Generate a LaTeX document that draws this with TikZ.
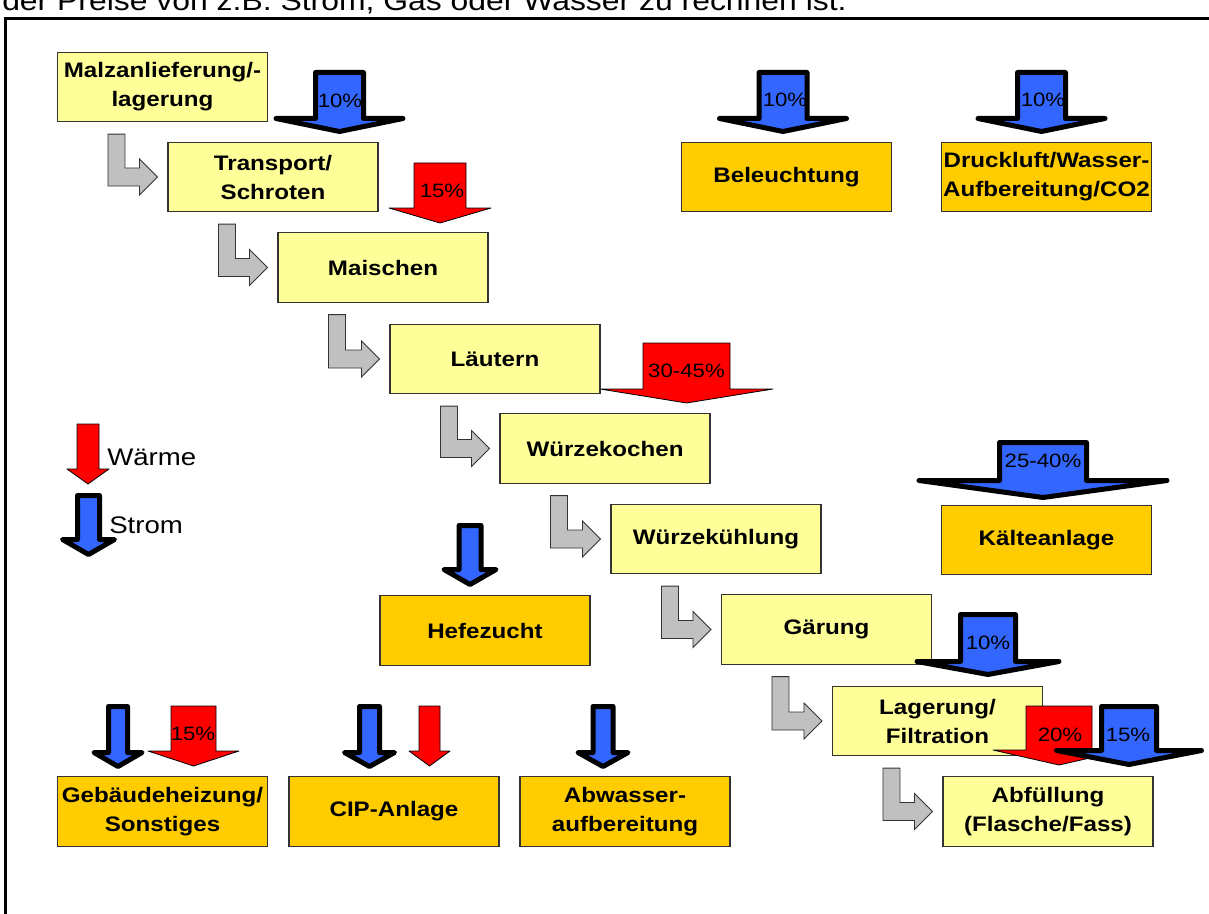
\documentclass[tikz,border=0pt]{standalone}
\usepackage{fontspec}
\setmainfont{Liberation Sans}[FakeStretch=1.15]
\usetikzlibrary{calc}
\definecolor{lyel}{HTML}{FFFF99}
\definecolor{oran}{HTML}{FFCC00}
\definecolor{bfill}{HTML}{3366FF}
\definecolor{rfill}{HTML}{FF0000}
\definecolor{gfill}{HTML}{C0C0C0}
\newcommand\myboxfont{\fontsize{15.75}{21.75}\selectfont\bfseries}
\newcommand\mypctfont{\fontsize{14.5}{16}\selectfont}
% style, centre x, top, half shaft, half head, head base, tip
\newcommand\dnarrow[7]{%
  \path[#1] ({#2-#4},#3) -- ({#2+#4},#3) -- ({#2+#4},#6) -- ({#2+#5},#6) -- (#2,#7) -- ({#2-#5},#6) -- ({#2-#4},#6) -- cycle;}
% L-shaped grey connector from node #1 to node #2
\newcommand\flowarrow[2]{%
  \path[grayarr] let \p1=($(#1.south west)+(51,12)$), \p2=($(#2.west)+(-10,0)$) in
   (\x1,\y1) -- (\x1+12.75pt,\y1) -- (\x1+12.75pt,\y2+6.75pt) -- (\x2-13.5pt,\y2+6.75pt)
   -- (\x2-13.5pt,\y2+13.5pt) -- (\x2,\y2) -- (\x2-13.5pt,\y2-13.5pt) -- (\x2-13.5pt,\y2-6.75pt)
   -- (\x1,\y2-6.75pt) -- cycle;}
\tikzset{
  procbox/.style={draw=black!80, line width=0.8pt, fill=lyel, minimum width=157.5pt,
    minimum height=52pt, align=center, inner sep=0pt, font=\myboxfont},
  auxbox/.style={procbox, fill=oran},
  bluearr/.style={fill=bfill, draw=black, line width=3.75pt, line join=round},
  redarr/.style={fill=rfill, draw=black, line width=0.6pt, line join=round},
  grayarr/.style={fill=gfill, draw=black!80, line width=0.7pt, line join=miter},
  pct/.style={font=\mypctfont, inner sep=0pt},
  legendtext/.style={font=\fontsize{18}{20}\selectfont, inner sep=0pt, anchor=west},
}
\begin{document}
\begin{tikzpicture}[x=0.75pt, y=-0.75pt]
\useasboundingbox (0,0) rectangle (1209,913);
\fill[white] (0,0) rectangle (1209,913);
% top text line (cut off at the top edge as in the original) and frame
\node[anchor=base west, inner sep=0pt, font=\fontsize{20.8}{24}\selectfont] (toptext) at (2,11)
  {der Preise von z.B. Strom, Gas oder Wasser zu rechnen ist.};
\draw[line width=1.8pt] (5.5,940) -- (5.5,18.5) -- (1230,18.5);

% heat arrow behind Laeutern box
\dnarrow{redarr}{686.5}{343}{43.5}{86.5}{389}{403}

% process boxes
\node[procbox] (malz) at (162.5,87) {Malzanlieferung/-\\lagerung};
\node[procbox] (transport) at (273,177) {Transport/\\Schroten};
\node[procbox] (maischen) at (383,267.5) {Maischen};
\node[procbox] (laeutern) at (495,359) {Läutern};
\node[procbox] (kochen) at (605,448.5) {Würzekochen};
\node[procbox] (kuehlung) at (716,539) {Würzekühlung};
\node[procbox] (gaerung) at (826.5,629.5) {Gärung};
\node[procbox] (lagerung) at (937.5,721) {Lagerung/\\Filtration};
\node[procbox] (abfuellung) at (1048,811.5) {Abfüllung\\(Flasche/Fass)};

% auxiliary boxes
\node[auxbox] (beleuchtung) at (786.5,177) {Beleuchtung};
\node[auxbox] (druckluft) at (1046.5,177) {Druckluft/Wasser-\\Aufbereitung/CO2};
\node[auxbox] (kaelte) at (1046.5,540) {Kälteanlage};
\node[auxbox] (hefe) at (485,630.5) {Hefezucht};
\node[auxbox] (gebaeude) at (162.5,811.5) {Gebäudeheizung/\\Sonstiges};
\node[auxbox] (cip) at (394,811.5) {CIP-Anlage};
\node[auxbox] (abwasser) at (625,811.5) {Abwasser-\\aufbereitung};

% grey flow connectors
\flowarrow{malz}{transport}
\flowarrow{transport}{maischen}
\flowarrow{maischen}{laeutern}
\flowarrow{laeutern}{kochen}
\flowarrow{kochen}{kuehlung}
\flowarrow{kuehlung}{gaerung}
\flowarrow{gaerung}{lagerung}
\flowarrow{lagerung}{abfuellung}

% energy arrows
\dnarrow{bluearr}{339.5}{72.5}{24}{63.5}{118.5}{131.5}
\dnarrow{bluearr}{783}{72.5}{24}{63.5}{118.5}{131.5}
\dnarrow{bluearr}{1041.5}{72.5}{24}{63.5}{118.5}{131.5}
\dnarrow{redarr}{440}{163}{26}{51}{208}{223}
\dnarrow{bluearr}{1043}{442.5}{43.5}{124}{480.5}{497.5}
\dnarrow{bluearr}{988}{614.5}{27.5}{71}{661.5}{674.5}
\dnarrow{redarr}{1059}{706}{33}{66}{750}{765}
\dnarrow{bluearr}{1129}{706.5}{27.5}{72.5}{750.5}{764.5}
\dnarrow{bluearr}{470}{525.5}{11}{26}{569.5}{584.5}
\dnarrow{bluearr}{118}{706.5}{9.5}{24}{752.5}{766.5}
\dnarrow{redarr}{193.5}{706}{22.5}{45.5}{751}{766}
\dnarrow{bluearr}{369.5}{706.5}{10}{25}{752.5}{766.5}
\dnarrow{redarr}{429.5}{706}{10.5}{20.5}{751}{766}
\dnarrow{bluearr}{603}{706.5}{10}{25}{752.5}{766.5}
% legend arrows
\dnarrow{redarr}{88}{424}{11}{21}{469}{484}
\dnarrow{bluearr}{88.5}{495.5}{11}{26}{539.5}{554.5}

% percentage labels
\node[pct] (pmalz) at (340,101) {10\%};
\node[pct] (pbel) at (785,100) {10\%};
\node[pct] (pdruck) at (1043,100) {10\%};
\node[pct] (ptrans) at (442,191) {15\%};
\node[pct] (plaeut) at (686.5,371) {30-45\%};
\node[pct] (pkaelte) at (1043,461) {25-40\%};
\node[pct] (pgaer) at (988,643) {10\%};
\node[pct] (plag) at (1060,735) {20\%};
\node[pct] (pabf) at (1128,735) {15\%};
\node[pct] (pgeb) at (193,734) {15\%};

% legend text
\node[legendtext] (lwaerme) at (107,457) {Wärme};
\node[legendtext] (lstrom) at (109,525) {Strom};
\end{tikzpicture}
\end{document}
